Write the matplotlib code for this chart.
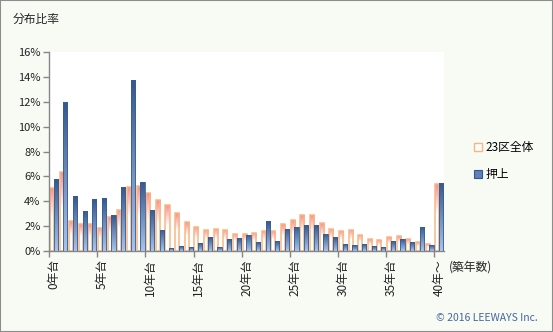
import matplotlib
matplotlib.use("Agg")
import matplotlib.pyplot as plt
import numpy as np
from matplotlib.colors import LinearSegmentedColormap
from matplotlib.patches import Patch, Rectangle

plt.rcParams["font.family"] = ["Noto Sans CJK JP", "DejaVu Sans"]

# データ（築年数別の分布比率, %）
labels = [f"{i}年台" for i in range(40)] + ["40年～"]
zenku = [5.06, 6.35, 2.41, 2.17, 2.17, 1.85, 2.73, 3.30, 5.14, 5.22,
         4.66, 4.10, 3.70, 3.05, 2.33, 1.93, 1.69, 1.77, 1.69, 1.37,
         1.37, 1.45, 1.61, 1.61, 2.17, 2.49, 2.89, 2.89, 2.25, 1.77,
         1.61, 1.69, 1.29, 0.96, 0.88, 1.12, 1.20, 0.96, 0.72, 0.56,
         5.39]
oshiage = [5.76, 11.98, 4.42, 3.22, 4.18, 4.26, 2.89, 5.14, 13.74, 5.55,
           3.30, 1.69, 0.24, 0.40, 0.32, 0.64, 1.12, 0.32, 0.96, 1.04,
           1.29, 0.72, 2.41, 0.80, 1.77, 1.93, 2.09, 2.09, 1.37, 1.12,
           0.56, 0.48, 0.56, 0.40, 0.32, 0.80, 0.96, 0.72, 1.93, 0.48,
           5.47]
series_names = ["23区全体", "押上"]

BG = "#f8faf4"
GRID = "#868686"

fig = plt.figure(figsize=(5.53, 3.32), dpi=100)
fig.patch.set_facecolor(BG)
ax = fig.add_axes([49 / 553, 81 / 332, 395 / 553, 199 / 332])
ax.set_facecolor("white")

x = np.arange(len(labels)) + 0.5
cmap_pink = LinearSegmentedColormap.from_list("pink", [(0, "white"), (0.55, "white"), (1, "#f48e8e")])
cmap_blue = LinearSegmentedColormap.from_list("blue", [(0, "#aac4e9"), (1, "#33588e")])
grad = np.linspace(0, 1, 256).reshape(-1, 1)


def gradient_bars(bars, cmap):
    # 各バーにグラデーションを描く
    for p in bars:
        x0, w, h = p.get_x(), p.get_width(), p.get_height()
        im = ax.imshow(grad, extent=[x0, x0 + w, 0, h], aspect="auto", cmap=cmap,
                       origin="lower", zorder=p.get_zorder() - 0.1, interpolation="bilinear")
        im.set_clip_path(p)


b1 = ax.bar(x - 0.2, zenku, 0.42, facecolor="none", edgecolor="#fab682", linewidth=1.1, zorder=2)
gradient_bars(b1, cmap_pink)
b2 = ax.bar(x + 0.2, oshiage, 0.44, facecolor="none", edgecolor="#3a5e93", linewidth=0.6, zorder=4)
gradient_bars(b2, cmap_blue)

ax.set_xlim(0, len(labels))
ax.set_ylim(0, 16)
ax.set_yticks(np.arange(0, 17, 2))
ax.set_yticklabels([f"{v}%" for v in range(0, 17, 2)], fontsize=8, color="#222222")

# 目盛り線は5区切り、ラベルはカテゴリ中央
ax.set_xticks(np.arange(0, 41, 5))
ax.set_xticklabels([])
ax.set_xticks(x[::5], minor=True)
ax.set_xticklabels(labels[::5], minor=True, rotation=90, fontsize=8.5, color="#222222", va="top")
ax.tick_params(axis="x", which="minor", length=0, pad=6)
ax.tick_params(axis="both", which="major", direction="out", length=4, width=1, color=GRID)
ax.tick_params(axis="y", pad=2)

for s in ["top", "right"]:
    ax.spines[s].set_visible(False)
for s in ["left", "bottom"]:
    ax.spines[s].set_color(GRID)
    ax.spines[s].set_linewidth(1)

fig.text(13 / 553, 1 - 19 / 332, "分布比率", fontsize=8.5, va="center", ha="left", color="#222222")
fig.text(471 / 553, 1 - 267 / 332, "(築年数)", fontsize=8.5, va="center", ha="center", color="#222222")
fig.text(538 / 553, 1 - 318 / 332, "© 2016 LEEWAYS Inc.", fontsize=7.5, va="center", ha="right", color="#44679c")

handles = [Patch(facecolor="white", edgecolor="#fab682", linewidth=1),
           Patch(facecolor="#5d81b8", edgecolor="#33588e", linewidth=0.8)]
fig.legend(handles, series_names, loc="center left", bbox_to_anchor=(463 / 553, 1 - 161 / 332),
           frameon=False, fontsize=8.5, handlelength=0.7, handleheight=0.7, handletextpad=0.3,
           labelspacing=1.2)

fig.patches.append(Rectangle((0, 0), 1, 1, transform=fig.transFigure, fill=False,
                             edgecolor="#8c8c8c", linewidth=1.5))

fig.savefig("out.png", dpi=100, facecolor=BG)
